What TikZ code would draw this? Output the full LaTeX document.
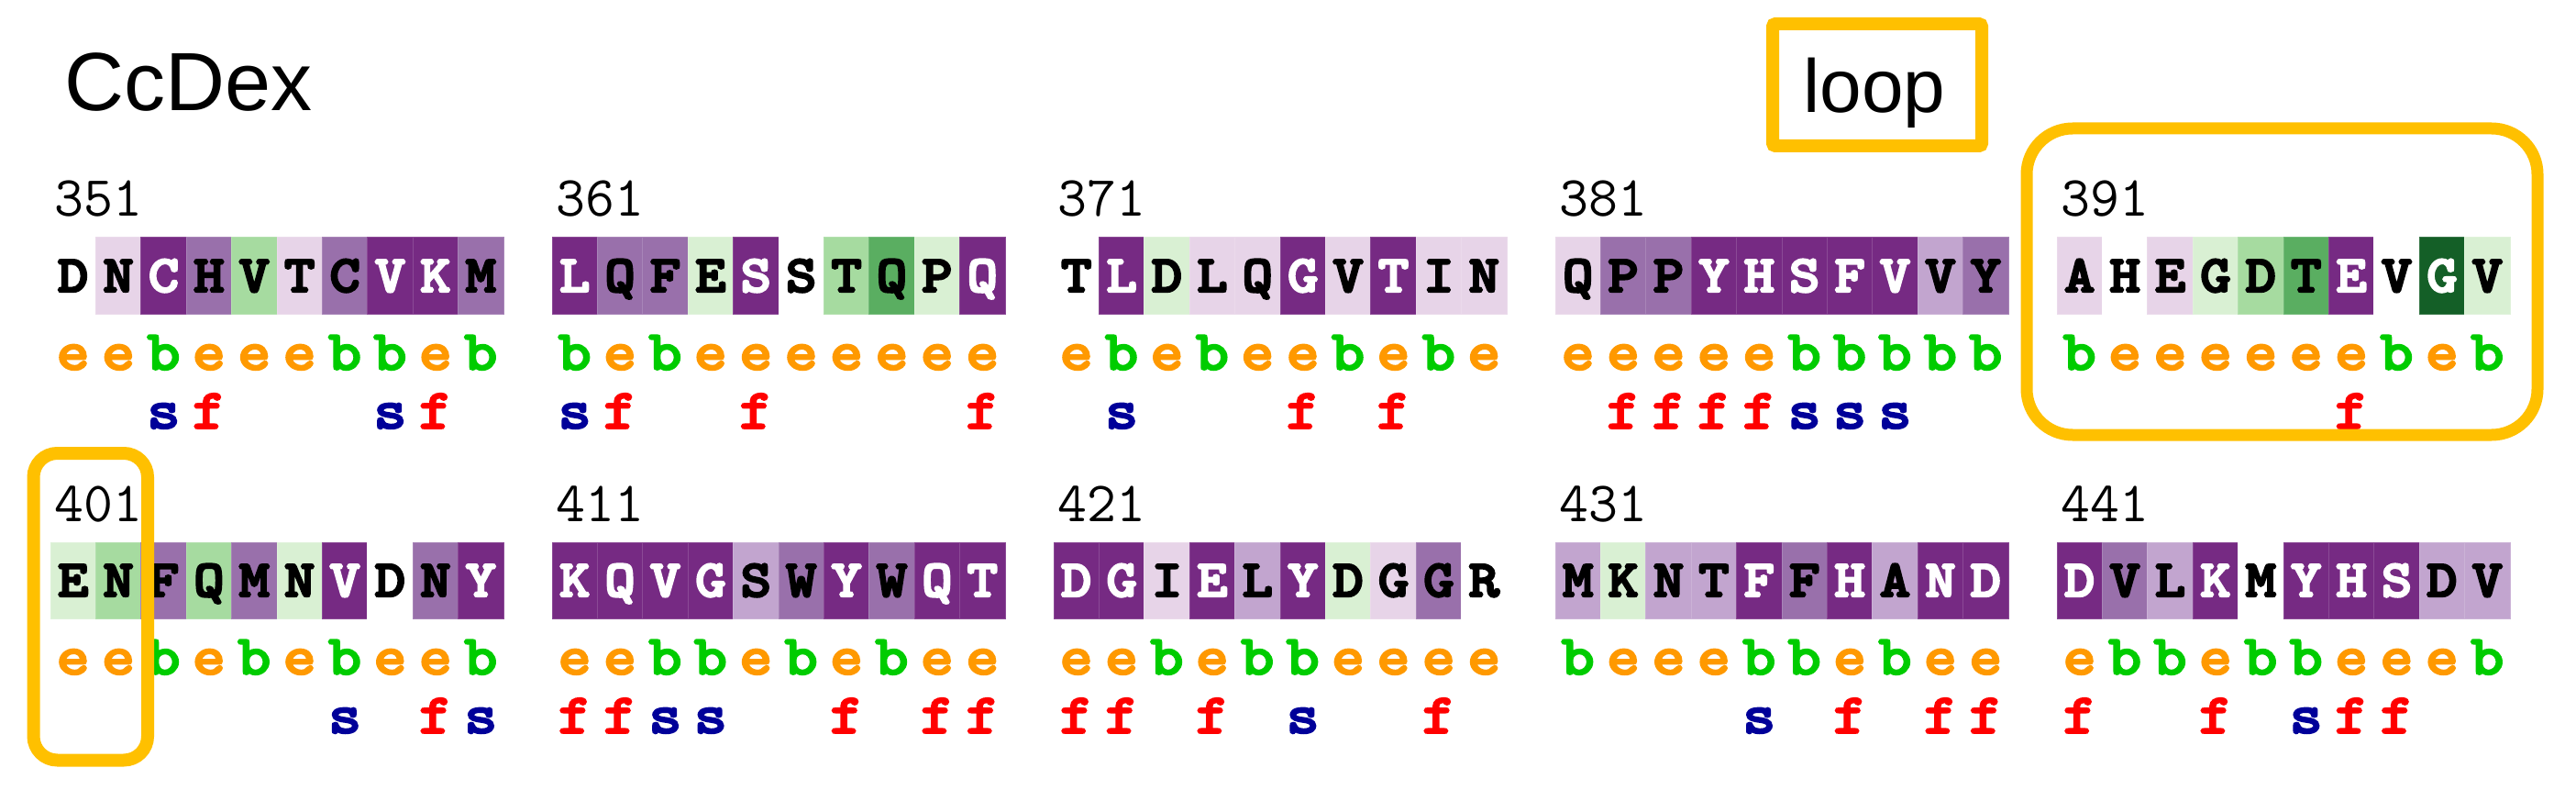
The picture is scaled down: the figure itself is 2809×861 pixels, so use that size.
\documentclass[tikz,border=0pt]{standalone}
\usepackage{fontspec}
\newfontfamily\sansf{Liberation Sans}
\newfontfamily\monob{lmmonolt10-bold.otf}[FakeBold=4,FakeStretch=1.12]
\newfontfamily\monol{lmmonolt10-bold.otf}[FakeBold=2.8,FakeStretch=1.12]
\definecolor{cD}{HTML}{762A83}
\definecolor{cM}{HTML}{9970AB}
\definecolor{cL}{HTML}{C2A5CF}
\definecolor{cV}{HTML}{E7D4E8}
\definecolor{cW}{HTML}{FFFFFF}
\definecolor{cA}{HTML}{D9F0D3}
\definecolor{cB}{HTML}{A6DBA0}
\definecolor{cC}{HTML}{5AAE61}
\definecolor{cG}{HTML}{145F27}
\colorlet{tD}{white}\colorlet{tG}{white}
\colorlet{tM}{black}\colorlet{tL}{black}\colorlet{tV}{black}\colorlet{tW}{black}
\colorlet{tA}{black}\colorlet{tB}{black}\colorlet{tC}{black}
\definecolor{cole}{HTML}{FF9900}
\definecolor{colb}{HTML}{00CC00}
\definecolor{cols}{HTML}{000099}
\definecolor{colf}{HTML}{FF0000}
\definecolor{hlc}{HTML}{FFC000}
\tikzset{
  resid/.style={font=\monob\fontsize{57}{57}\selectfont, anchor=base, inner sep=0},
  lab/.style={font=\monol\fontsize{62}{62}\selectfont, anchor=base, inner sep=0},
  num/.style={font=\ttfamily\fontsize{62}{62}\selectfont, anchor=base west, inner sep=0},
  hlbox/.style={draw=hlc, line width=13},
  title/.style={font=\sansf\fontsize{90}{90}\selectfont, inner sep=0},
}
\newcommand\seqblock[4]{%
  \node[num] (n#1) at (#2+4,#3+236) {#1};
  \foreach \resi/\colr/\ebx/\sfx [count=\i from 0] in {#4}{%
    \pgfmathsetmacro\xl{#2+\i*49.4}%
    \path[fill=c\colr, draw=c\colr!85!white, line width=1] (\xl,#3+259) rectangle ++(49.4,83);
    \node[resid, text=t\colr] (r#1c\i) at (\xl+24.7,#3+318) {\resi};
    \node[lab, text=col\ebx] (e#1c\i) at (\xl+24.7,#3+403) {\ebx};
    \if n\sfx\else\node[lab, text=col\sfx] (s#1c\i) at (\xl+24.7,#3+467) {\sfx};\fi
  }%
}
\begin{document}
\begin{tikzpicture}[x=1pt,y=-1pt]
\useasboundingbox (0,0) rectangle (2809,861);
\node[title, anchor=base west] (ttl) at (70,121) {CcDex};
% row 1
\seqblock{351}{55}{0}{D/W/e/n, N/V/e/n, C/D/b/s, H/M/e/f, V/B/e/n, T/V/e/n, C/M/b/n, V/D/b/s, K/D/e/f, M/M/b/n}
\seqblock{361}{602}{0}{L/D/b/s, Q/M/e/f, F/M/b/n, E/A/e/n, S/D/e/f, S/W/e/n, T/B/e/n, Q/C/e/n, P/A/e/n, Q/D/e/f}
\seqblock{371}{1149}{0}{T/W/e/n, L/D/b/s, D/A/e/n, L/V/b/n, Q/V/e/n, G/D/e/f, V/V/b/n, T/D/e/f, I/V/b/n, N/V/e/n}
\seqblock{381}{1696}{0}{Q/V/e/n, P/M/e/f, P/M/e/f, Y/D/e/f, H/D/e/f, S/D/b/s, F/D/b/s, V/D/b/s, V/L/b/n, Y/M/b/n}
\seqblock{391}{2243}{0}{A/V/b/n, H/W/e/n, E/V/e/n, G/A/e/n, D/B/e/n, T/C/e/n, E/D/e/f, V/W/b/n, G/G/e/n, V/A/b/n}
% row 2
\seqblock{401}{55}{332}{E/A/e/n, N/B/e/n, F/M/b/n, Q/B/e/n, M/M/b/n, N/A/e/n, V/D/b/s, D/W/e/n, N/M/e/f, Y/D/b/s}
\seqblock{411}{602}{332}{K/D/e/f, Q/D/e/f, V/D/b/s, G/D/b/s, S/L/e/n, W/M/b/n, Y/D/e/f, W/M/b/n, Q/D/e/f, T/D/e/f}
\seqblock{421}{1149}{332}{D/D/e/f, G/D/e/f, I/V/b/n, E/D/e/f, L/L/b/n, Y/D/b/s, D/A/e/n, G/V/e/n, G/M/e/f, R/W/e/n}
\seqblock{431}{1696}{332}{M/L/b/n, K/A/e/n, N/L/e/n, T/L/e/n, F/D/b/s, F/M/b/n, H/D/e/f, A/L/b/n, N/D/e/f, D/D/e/f}
\seqblock{441}{2243}{332}{D/D/e/f, V/M/b/n, L/L/b/n, K/D/e/f, M/W/b/n, Y/D/b/s, H/D/e/f, S/D/e/f, D/L/e/n, V/L/b/n}
% highlight boxes
\draw[hlbox, line width=14, rounded corners=3] (1933,26) rectangle (2161,159);
\node[title, font=\sansf\fontsize{82}{82}\selectfont, anchor=base] (loop) at (2044,123) {loop};
\draw[hlbox, rounded corners=50] (2210,140) rectangle (2767,474);
\draw[hlbox, line width=14, rounded corners=26] (36.5,494) rectangle (161,828.5);
\end{tikzpicture}
\end{document}
